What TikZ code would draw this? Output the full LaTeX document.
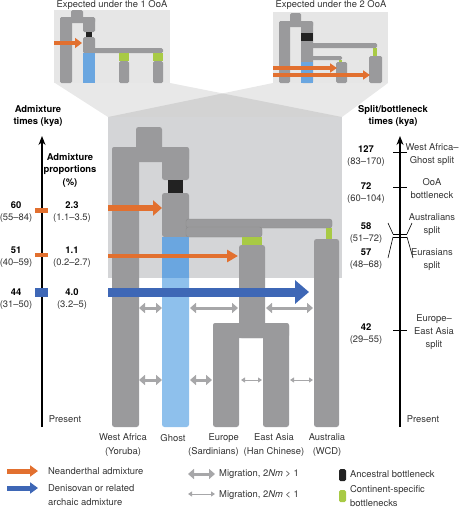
\documentclass[tikz,border=0pt]{standalone}
\usepackage{fontspec}
\setmainfont{TeX Gyre Heros}
\usetikzlibrary{arrows.meta}
\definecolor{brgray}{HTML}{9A9A9C}
\definecolor{boxgray}{HTML}{D4D5D7}
\definecolor{insetgray}{HTML}{E6E6E6}
\definecolor{orng}{HTML}{E2702F}
\definecolor{dblue}{HTML}{3E67B6}
\definecolor{gblue}{HTML}{6AA6E0}
\definecolor{lblue}{HTML}{8EC0EC}
\definecolor{grn}{HTML}{A8CA45}
\definecolor{blk}{HTML}{222222}
\definecolor{miggray}{HTML}{A7A7A9}
\definecolor{txt}{HTML}{333333}
\begin{document}
\begin{tikzpicture}[x=1pt,y=-1pt,
  every node/.style={inner sep=0pt, text=txt, font=\fontsize{9.4}{12.5}\selectfont},
  br/.style={fill=brgray, rounded corners=2.5pt},
  sbr/.style={fill=brgray, rounded corners=1.5pt},
  barline/.style={draw=black!45, line width=0.4pt},
  grnbox/.style={fill=grn},
  blkbox/.style={fill=blk},
  numlbl/.style={align=center},
  rlbl/.style={align=center, font=\fontsize{9.4}{13}\selectfont},
  poplbl/.style={align=center, font=\fontsize{9.4}{14}\selectfont},
  leglbl/.style={anchor=west, align=left, font=\fontsize{9.4}{14}\selectfont},
  ttl/.style={font=\bfseries\fontsize{9.4}{12.5}\selectfont, text=black, align=center},
  axisarrow/.style={-{Stealth[length=9pt,width=7pt]}, line width=1.1pt, black},
  tick/.style={line width=0.6pt, black},
  migthick/.style={{Triangle[length=6pt,width=10pt]}-{Triangle[length=6pt,width=10pt]}, line width=3pt, miggray},
  migthin/.style={{Triangle[length=4pt,width=5pt]}-{Triangle[length=4pt,width=5pt]}, line width=0.9pt, miggray},
  trap/.style={fill=black, fill opacity=0.09}
]
\useasboundingbox (0,0) rectangle (465,509);

% ---------- perspective trapezoids ----------
\fill[trap] (55,83) -- (170,83) -- (342,117) -- (108,117) -- cycle;
\fill[trap] (273,83) -- (388,83) -- (342,117) -- (108,117) -- cycle;

% ---------- inset 1 OoA ----------
\fill[insetgray] (54,10) rectangle (170,83);
\node (t1) at (112,5) {Expected under the 1 OoA};
\fill[sbr] (71,10) rectangle (83,19);
\fill[sbr] (60,17) rectangle (95,23);
\fill[sbr] (60,17) rectangle (72,83);
\fill[sbr] (83,17) rectangle (95,32);
\fill[blkbox] (86,32) rectangle (92,37);
\fill[sbr] (83,37) rectangle (95,53);
\fill[sbr] (83,48) rectangle (163,53);
\fill[gblue] (83,53) rectangle (95,83);
\fill[grnbox] (119,53) rectangle (129,61);
\fill[sbr] (119,61) rectangle (129,83);
\fill[grnbox] (153,53) rectangle (163,61);
\fill[sbr] (153,61) rectangle (163,83);
\coordinate (ia1s) at (54,43); \coordinate (ia1e) at (82,43);
\draw[-{Triangle[length=7pt,width=10pt]}, line width=3.5pt, orng] (ia1s) -- (ia1e);

% ---------- inset 2 OoA ----------
\fill[insetgray] (273,12) rectangle (388,83);
\node (t2) at (331,5) {Expected under the 2 OoA};
\fill[sbr] (290,13) rectangle (301,23);
\fill[sbr] (279,21) rectangle (313,27);
\fill[sbr] (279,21) rectangle (290,83);
\fill[sbr] (301,21) rectangle (313,83);
\fill[blkbox] (301,33) rectangle (313,41);
\fill[gblue] (301,62) rectangle (313,83);
\fill[sbr] (311,43) rectangle (377,48);
\fill[grnbox] (373,48) rectangle (377,56);
\fill[sbr] (369,56) rectangle (382,83);
\fill[sbr] (311,56) rectangle (342,60);
\fill[grnbox] (339,60) rectangle (342,62);
\fill[sbr] (336,62) rectangle (347,83);
\coordinate (ia2s) at (273,68); \coordinate (ia2e) at (337,68);
\coordinate (ia3s) at (273,75); \coordinate (ia3e) at (370,75);
\draw[-{Triangle[length=7pt,width=9pt]}, line width=3.5pt, orng] (ia2s) -- (ia2e);
\draw[-{Triangle[length=7pt,width=9pt]}, line width=3.5pt, orng] (ia3s) -- (ia3e);

% ---------- main box ----------
\fill[boxgray] (108,117) rectangle (342,278);

% ---------- main tree ----------
\fill[br] (136,127) rectangle (162,152);
\fill[br] (112,147) rectangle (189,162);
\fill[br] (112,147) rectangle (139,427);
\fill[br] (162,147) rectangle (189,180);
\fill[blkbox] (168,180) rectangle (183,193);
\fill[br] (162,193) rectangle (189,237);
\filldraw[br, barline] (186,219) rectangle (332,228);
\filldraw[br, barline] (186,227) rectangle (262,237);
\fill[lblue, rounded corners=2.5pt] (162,270) rectangle (189,427);
\fill[gblue] (162,237) rectangle (189,278);
\fill[grnbox] (242,237) rectangle (262,245);
\fill[br] (239,245) rectangle (265,338);
\fill[br] (213,323) rectangle (289,338);
\fill[br] (213,323) rectangle (239,427);
\fill[br] (263,323) rectangle (289,427);
\fill[grnbox] (326,228) rectangle (332,240);
\fill[br] (314,239) rectangle (339,427);

% ---------- admixture arrows ----------
\coordinate (a1s) at (108,208); \coordinate (a1e) at (162,208);
\coordinate (a2s) at (108,256); \coordinate (a2e) at (238,256);
\coordinate (a3s) at (108,292); \coordinate (a3e) at (309,292);
\draw[-{Triangle[length=9pt,width=15pt]}, line width=5.5pt, orng] (a1s) -- (a1e);
\draw[-{Triangle[length=11pt,width=12pt]}, line width=4pt, orng] (a2s) -- (a2e);
\draw[-{Triangle[length=14pt,width=23pt]}, line width=9pt, dblue] (a3s) -- (a3e);

% ---------- migration arrows ----------
\coordinate (m1a) at (139,308); \coordinate (m1b) at (162,308);
\coordinate (m2a) at (190,308); \coordinate (m2b) at (238,308);
\coordinate (m3a) at (266,308); \coordinate (m3b) at (313,308);
\coordinate (m4a) at (139,380); \coordinate (m4b) at (162,380);
\coordinate (m5a) at (190,380); \coordinate (m5b) at (212,380);
\coordinate (m6a) at (241,380); \coordinate (m6b) at (262,380);
\coordinate (m7a) at (290,380); \coordinate (m7b) at (313,380);
\draw[migthick] (m1a) -- (m1b);
\draw[migthick] (m2a) -- (m2b);
\draw[migthick] (m3a) -- (m3b);
\draw[migthick] (m4a) -- (m4b);
\draw[migthick] (m5a) -- (m5b);
\draw[migthin] (m6a) -- (m6b);
\draw[migthin] (m7a) -- (m7b);

% ---------- population labels ----------
\node[poplbl] (pwa) at (123,445) {West Africa\\(Yoruba)};
\node[poplbl] (pgh) at (173,438) {Ghost};
\node[poplbl, align=right, anchor=east] (peu) at (239,445) {Europe\\(Sardinians)};
\node[poplbl] (pea) at (274,445) {East Asia\\(Han Chinese)};
\node[poplbl] (pau) at (327,445) {Australia\\(WCD)};

% ---------- left axis ----------
\coordinate (lb) at (42,427); \coordinate (lt) at (42,136);
\draw[axisarrow] (lb) -- (lt);
\node[ttl] (lttl) at (38,116) {Admixture\\times (kya)};
\node[ttl] (pttl) at (70,170) {Admixture\\proportions\\(\%)};
\fill[orng] (35,208) rectangle (48,213);
\fill[orng] (35,253) rectangle (48,257);
\fill[dblue] (35,288) rectangle (48,297);
\node[numlbl] (l60) at (16,212) {\textbf{\color{black}60}\\(55–84)};
\node[numlbl] (l51) at (16,257) {\textbf{\color{black}51}\\(40–59)};
\node[numlbl] (l44) at (16,299) {\textbf{\color{black}44}\\(31–50)};
\node[numlbl] (p23) at (72,212) {\textbf{\color{black}2.3}\\(1.1–3.5)};
\node[numlbl] (p11) at (72,257) {\textbf{\color{black}1.1}\\(0.2–2.7)};
\node[numlbl] (p40) at (72,299) {\textbf{\color{black}4.0}\\(3.2–5)};
\node (lpres) at (65,419) {Present};

% ---------- right axis ----------
\coordinate (rb) at (400,427); \coordinate (rt) at (400,136);
\draw[axisarrow] (rb) -- (rt);
\node[ttl] (rttl) at (393,116) {Split/bottleneck\\times (kya)};
\draw[tick] (393,152) -- (407,152);
\draw[tick] (393,187) -- (407,187);
\draw[tick] (393,234) -- (407,234);
\draw[tick] (393,237) -- (407,237);
\draw[tick] (388,223) -- (393,234);
\draw[tick] (412,223) -- (407,234);
\draw[tick] (393,237) -- (388,258);
\draw[tick] (407,237) -- (413,258);
\draw[tick] (393,330) -- (407,330);
\node[numlbl] (r127) at (366,156) {\textbf{\color{black}127}\\(83–170)};
\node[numlbl] (r72) at (366,193) {\textbf{\color{black}72}\\(60–104)};
\node[numlbl] (r58) at (366,233) {\textbf{\color{black}58}\\(51–72)};
\node[numlbl] (r57) at (366,259) {\textbf{\color{black}57}\\(48–68)};
\node[numlbl] (r42) at (366,334) {\textbf{\color{black}42}\\(29–55)};
\node[rlbl] (s1) at (432,155) {West Africa–\\Ghost split};
\node[rlbl] (s2) at (432,189) {OoA\\bottleneck};
\node[rlbl] (s3) at (432,225) {Australians\\split};
\node[rlbl] (s4) at (432,260) {Eurasians\\split};
\node[rlbl] (s5) at (434,332) {Europe–\\East Asia\\split};
\node (rpres) at (423,419) {Present};

% ---------- legend ----------
\coordinate (lo1) at (7,471); \coordinate (lo2) at (38,471);
\coordinate (lb1) at (7,488); \coordinate (lb2) at (38,488);
\draw[-{Triangle[length=8pt,width=11pt]}, line width=5pt, orng] (lo1) -- (lo2);
\draw[-{Triangle[length=8pt,width=11pt]}, line width=5pt, dblue] (lb1) -- (lb2);
\node[leglbl] (gn) at (48,471) {Neanderthal admixture};
\node[leglbl] (gd) at (48,495) {Denisovan or related\\archaic admixture};
\coordinate (lm1) at (188,474); \coordinate (lm2) at (215,474);
\coordinate (lm3) at (188,494); \coordinate (lm4) at (215,494);
\draw[migthick] (lm1) -- (lm2);
\draw[migthin] (lm3) -- (lm4);
\node[leglbl] (gm1) at (219,474) {Migration, 2\textit{Nm} > 1};
\node[leglbl] (gm2) at (219,495) {Migration, 2\textit{Nm} < 1};
\fill[blkbox, rounded corners=1.5pt] (339,469) rectangle (346,481);
\fill[grnbox, rounded corners=1.5pt] (339,490) rectangle (346,502);
\node[leglbl] (ga) at (350,474) {Ancestral bottleneck};
\node[leglbl] (gc) at (350,496) {Continent-specific\\bottlenecks};
\end{tikzpicture}
\end{document}
